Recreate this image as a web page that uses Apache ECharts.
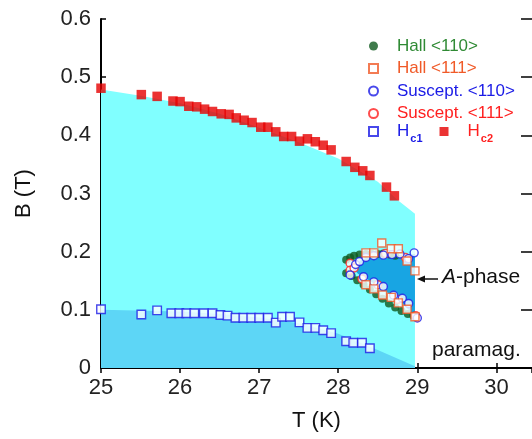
<!DOCTYPE html>
<html>
<head>
<meta charset="utf-8">
<script src="https://cdn.jsdelivr.net/npm/echarts@6/dist/echarts.min.js"></script>
<style>html,body{margin:0;padding:0;background:#fff}#c{width:532px;height:439px}</style>
</head>
<body>
<div id="c"></div>
<script>
// ---- data ----
const hc2 = [[25.0,0.481],[25.51,0.470],[25.71,0.467],[25.91,0.459],[26.0,0.458],[26.11,0.450],[26.21,0.449],[26.31,0.445],[26.41,0.441],[26.52,0.437],[26.62,0.436],[26.71,0.430],[26.81,0.426],[26.91,0.422],[27.02,0.414],[27.11,0.414],[27.21,0.406],[27.31,0.398],[27.41,0.398],[27.51,0.390],[27.61,0.394],[27.71,0.389],[27.81,0.383],[27.91,0.375],[28.10,0.355],[28.21,0.345],[28.31,0.339],[28.40,0.331],[28.61,0.311],[28.71,0.296]];
const hc1 = [[25.0,0.101],[25.51,0.092],[25.71,0.099],[25.89,0.094],[25.99,0.094],[26.08,0.094],[26.18,0.094],[26.30,0.094],[26.41,0.094],[26.51,0.091],[26.60,0.090],[26.70,0.0865],[26.80,0.0865],[26.90,0.0865],[27.0,0.0865],[27.11,0.0865],[27.21,0.078],[27.29,0.088],[27.39,0.088],[27.51,0.0785],[27.61,0.069],[27.71,0.069],[27.81,0.065],[27.91,0.060],[28.10,0.046],[28.19,0.0435],[28.30,0.0435],[28.40,0.034]];
const hall110 = [[28.10,0.186],[28.15,0.190],[28.20,0.193],[28.27,0.195],[28.35,0.196],[28.42,0.196],[28.50,0.196],[28.57,0.197],[28.65,0.195],[28.72,0.193],
  [28.10,0.163],[28.17,0.158],[28.24,0.151],[28.32,0.143],[28.40,0.135],[28.48,0.127],[28.56,0.119],[28.64,0.111],[28.72,0.104],[28.80,0.098],[28.88,0.093],[28.95,0.090]];
const suscept111 = [[28.15,0.180],[28.15,0.168],[28.20,0.172],[28.30,0.153],[28.50,0.143],[28.75,0.118],[28.98,0.090],[28.60,0.197],[28.85,0.190]];
const suscept110 = [[28.22,0.178],[28.27,0.183],[28.35,0.190],[28.45,0.193],[28.57,0.194],[28.68,0.195],[28.78,0.196],[28.89,0.188],[28.96,0.198],
  [28.15,0.160],[28.32,0.157],[28.45,0.148],[28.57,0.140],[28.70,0.125],[28.81,0.120],[28.89,0.111],[29.00,0.086]];
const hall111 = [[28.35,0.198],[28.45,0.198],[28.55,0.215],[28.67,0.205],[28.76,0.205],[28.87,0.184],[28.97,0.167],
  [28.35,0.143],[28.45,0.136],[28.56,0.1255],[28.67,0.1215],[28.76,0.112],[28.87,0.101],[28.97,0.088]];
// phase regions (boundaries)
const conicalRegion = [[25,0],[25,0.479],[25.5,0.468],[26,0.455],[26.5,0.437],[27,0.413],[27.5,0.388],[28,0.360],[28.5,0.320],[28.75,0.289],[28.97,0.265],[28.97,0]];
const helicalRegion = [[25,0],[25,0.100],[26,0.097],[26.5,0.093],[27,0.087],[27.5,0.077],[28,0.059],[28.5,0.031],[28.97,0.003],[28.97,0]];
const aPhaseRegion = [[28.18,0.172],[28.3,0.187],[28.45,0.192],[28.6,0.193],[28.75,0.194],[28.97,0.196],[28.97,0.090],[28.8,0.112],[28.6,0.132],[28.4,0.150],[28.25,0.162]];

const FONT = '"Liberation Sans", Arial, Helvetica, sans-serif';
const chart = echarts.init(document.getElementById('c'));

function region(pts, color, z) {
  return {
    type: 'custom', data: [0], z: z, silent: true, clip: true,
    renderItem: (params, api) => ({
      type: 'polygon',
      shape: { points: pts.map(p => api.coord(p)) },
      style: { fill: color }
    })
  };
}

const openSq = (c) => ({ color: '#ffffff', borderColor: c, borderWidth: 1.4 });

chart.setOption({
  animation: false,
  grid: { left: 101, right: 0, top: 19, bottom: 71 },
  xAxis: [{
    type: 'value', min: 25, max: 30.45, interval: 1,
    name: 'T (K)', nameLocation: 'middle', nameGap: 42,
    nameTextStyle: { fontFamily: FONT, fontSize: 22, color: '#111' },
    axisLine: { lineStyle: { color: '#000', width: 2 } },
    axisTick: { inside: true, length: 5, lineStyle: { color: '#000', width: 1.5 } },
    axisLabel: { fontFamily: FONT, fontSize: 22, color: '#222', margin: 9, showMaxLabel: false },
    splitLine: { show: false }
  }, {
    type: 'value', min: 25, max: 30.45, interval: 1, position: 'top',
    axisLine: { lineStyle: { color: '#000', width: 2 } },
    axisTick: { inside: true, length: 5, lineStyle: { color: '#000', width: 1.5 } },
    axisLabel: { show: false }, splitLine: { show: false }
  }],
  yAxis: [{
    type: 'value', min: 0, max: 0.6, interval: 0.1,
    name: 'B (T)', nameLocation: 'middle', nameGap: 66,
    nameTextStyle: { fontFamily: FONT, fontSize: 22, color: '#111' },
    axisLine: { lineStyle: { color: '#000', width: 2 } },
    axisTick: { inside: true, length: 5, lineStyle: { color: '#000', width: 1.5 } },
    axisLabel: { fontFamily: FONT, fontSize: 22, color: '#222', margin: 10,
      formatter: v => v === 0 ? '0' : v.toFixed(1) },
    splitLine: { show: false }
  }, {
    type: 'value', min: 0, max: 0.6, interval: 0.1, position: 'right', offset: -11,
    axisLine: { show: true, lineStyle: { color: 'rgba(255,255,255,0)', width: 1 } },
    axisTick: { show: true, inside: false, length: 11, lineStyle: { color: '#000', width: 1.5 } },
    axisLabel: { show: true, color: 'rgba(0,0,0,0)', fontSize: 1, margin: -14 }, splitLine: { show: false }
  }],
  legend: [{
    orient: 'vertical', left: 363, top: 31, itemWidth: 9, itemHeight: 9, itemGap: 2.5,
    selectedMode: false,
    textStyle: { fontFamily: FONT, fontSize: 17, lineHeight: 20, padding: [0, 0, 0, 14] },
    data: [
      { name: 'Hall <110>', textStyle: { color: '#2f8a34' } },
      { name: 'Hall <111>', textStyle: { color: '#f05a28' } },
      { name: 'Suscept. <110>', textStyle: { color: '#1a1ae6' } },
      { name: 'Suscept. <111>', textStyle: { color: '#ff1f1f' } }
    ]
  }, {
    orient: 'horizontal', left: 363, top: 118, itemWidth: 9, itemHeight: 9, itemGap: 17,
    selectedMode: false,
    textStyle: { fontFamily: FONT, fontSize: 17, padding: [0, 0, 0, 14],
      rich: {
        h: { fontFamily: FONT, fontSize: 17, lineHeight: 20 },
        s: { fontFamily: FONT, fontSize: 11, fontWeight: 'bold', padding: [14, 0, 0, 1] }
      } },
    formatter: n => n === 'Hc1' ? '{h|H}{s|c1}' : '{h|H}{s|c2}',
    data: [
      { name: 'Hc1', textStyle: { color: '#1a1ae6', rich: { h: { color: '#1a1ae6' }, s: { color: '#1a1ae6' } } } },
      { name: 'Hc2', textStyle: { color: '#ff1f1f', rich: { h: { color: '#ff1f1f' }, s: { color: '#ff1f1f' } } } }
    ]
  }],
  graphic: [
    { type: 'text', left: 163, top: 213, style: { text: 'conical phase', font: '21px ' + FONT, fill: '#111' } },
    { type: 'text', left: 162, top: 330, style: { text: 'helical phase', font: '21px ' + FONT, fill: '#111' } },
    { type: 'text', left: 432, top: 340, style: { text: 'paramag.', font: '21px ' + FONT, fill: '#111' } },
    { type: 'text', left: 442, top: 267, style: { rich: { i: { font: 'italic 21px ' + FONT, fill: '#111' }, n: { font: '21px ' + FONT, fill: '#111' } }, text: '{i|A}{n|-phase}' } },
    { type: 'line', shape: { x1: 438, y1: 279, x2: 420, y2: 279 }, style: { stroke: '#111', lineWidth: 1.5 } },
    { type: 'polygon', shape: { points: [[417, 279], [425, 275.5], [425, 282.5]] }, style: { fill: '#111' } }
  ],
  series: [
    region(conicalRegion, '#80ffff', 1),
    region(helicalRegion, '#5dd6f6', 2),
    region(aPhaseRegion, '#18a5e3', 3),
    { name: 'Hc1', type: 'scatter', data: hc1, symbol: 'rect', symbolSize: 8.5, itemStyle: openSq('#1a1ae6'), z: 5 },
    { name: 'Hc2', type: 'scatter', data: hc2, symbol: 'rect', symbolSize: 9.5, itemStyle: { color: '#e60000' }, z: 5 },
    { name: 'Hall <110>', type: 'scatter', data: hall110, symbol: 'circle', symbolSize: 8, itemStyle: { color: '#0f5a1e' }, z: 6 },
    { name: 'Suscept. <111>', type: 'scatter', data: suscept111, symbol: 'circle', symbolSize: 8, itemStyle: openSq('#ff1f1f'), z: 7 },
    { name: 'Suscept. <110>', type: 'scatter', data: suscept110, symbol: 'circle', symbolSize: 8, itemStyle: openSq('#1a1ae6'), z: 8 },
    { name: 'Hall <111>', type: 'scatter', data: hall111, symbol: 'rect', symbolSize: 8, itemStyle: openSq('#f05a28'), z: 9 }
  ]
});
</script>
</body>
</html>
